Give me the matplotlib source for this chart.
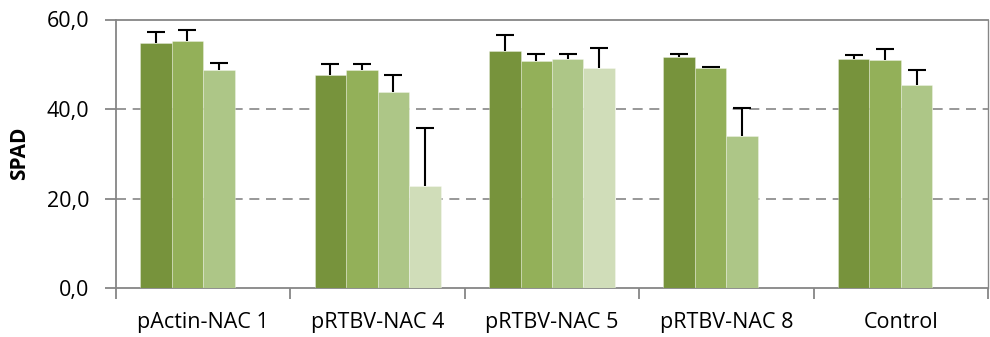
import matplotlib
matplotlib.use("Agg")
import matplotlib.pyplot as plt
import numpy as np

plt.rcParams['font.family'] = ['Open Sans', 'DejaVu Sans']

categories = ["pActin-NAC 1", "pRTBV-NAC 4", "pRTBV-NAC 5", "pRTBV-NAC 8", "Control"]
# Four series (slots); NaN where a group has no bar in that slot
series1 = [54.8, 47.7, 52.9, 51.6, 51.2]
series2 = [55.3, 48.7, 50.7, 49.1, 50.9]
series3 = [48.8, 43.7, 51.2, 34.0, 45.4]
series4 = [np.nan, 22.9, 49.2, np.nan, np.nan]
err1 = [2.3, 2.4, 3.6, 0.8, 0.9]
err2 = [2.4, 1.3, 1.7, 0.3, 2.4]
err3 = [1.4, 3.8, 1.2, 6.2, 3.3]
err4 = [np.nan, 12.9, 4.5, np.nan, np.nan]
yticks = [0, 20, 40, 60]
ytick_labels = ["0,0", "20,0", "40,0", "60,0"]

colors = ["#77933C", "#93B059", "#ADC687", "#D0DDB9"]
values = [series1, series2, series3, series4]
errors = [err1, err2, err3, err4]

fig = plt.figure(figsize=(9.9, 3.37), dpi=100)
ax = fig.add_axes([116/990, 1 - 288/337, (988 - 116)/990, (288 - 19.5)/337])

x = np.arange(len(categories))
w = 0.1806
for j, (vals, errs, c) in enumerate(zip(values, errors, colors)):
    pos = x + (j - 1.5) * w
    vals = np.array(vals, dtype=float)
    errs = np.array(errs, dtype=float)
    ax.bar(pos, vals, width=w, color=c, edgecolor=(1, 1, 1, 0.35), linewidth=0.6, zorder=3)
    mask = ~np.isnan(vals)
    eb = ax.errorbar(pos[mask], vals[mask], yerr=[np.zeros(mask.sum()), errs[mask]],
                     fmt='none', ecolor='black', elinewidth=1.5, capsize=6.5, capthick=1.5, zorder=4)
    # keep only the upper caps
    eb.lines[1][0].set_visible(False)

ax.set_xlim(-0.5, len(categories) - 0.5)
ax.set_ylim(0, 60)
ax.set_yticks(yticks)
ax.set_yticklabels(ytick_labels, fontsize=15.5)
ax.set_xticks(x)
ax.set_xticklabels(categories, fontsize=15.5)
ax.tick_params(axis='x', length=0, pad=17)
ax.set_xticks(np.arange(-0.5, len(categories)), minor=True)
ax.tick_params(axis='x', which='minor', length=8, width=1.3, color='#868686', direction='out')
ax.tick_params(axis='y', length=8, width=1.3, color='#868686', direction='out', pad=11)

for y in [20, 40]:
    ax.axhline(y, color='#868686', linestyle=(0, (6, 4)), linewidth=1.2, zorder=1)

for s in ['left', 'bottom', 'right', 'top']:
    ax.spines[s].set_color('#868686')
    ax.spines[s].set_linewidth(1.3)
ax.spines['right'].set_linewidth(1.0)

ax.set_ylabel("SPAD", fontsize=15, fontweight='bold', labelpad=12)

fig.savefig("out.png", dpi=100)
